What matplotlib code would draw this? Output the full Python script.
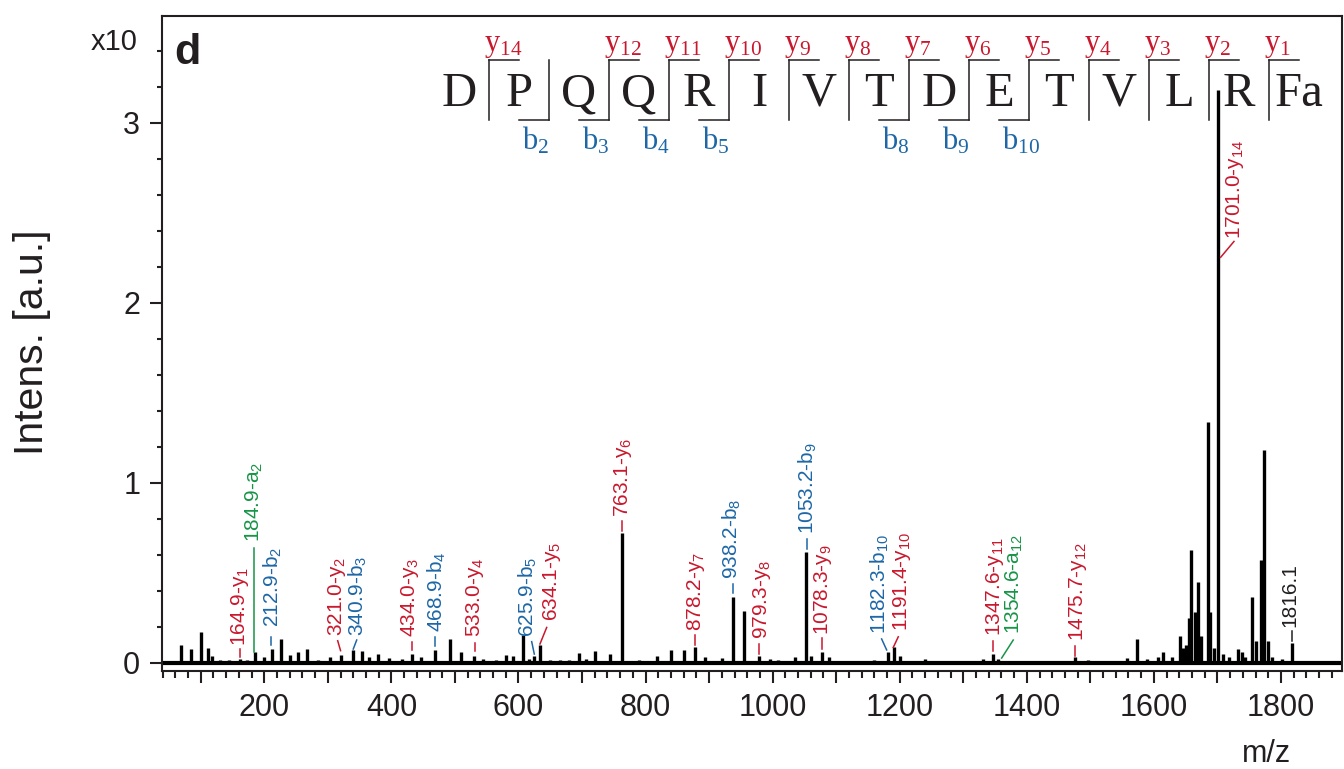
import matplotlib
matplotlib.use('Agg')
import matplotlib.pyplot as plt
from matplotlib.ticker import MultipleLocator, FuncFormatter
from matplotlib.lines import Line2D

plt.rcParams['font.family'] = ['Liberation Sans', 'DejaVu Sans']

# spectrum peaks: m/z and intensity (axis units, x10)
peak_mz = [69, 85, 100, 111, 118, 130, 145, 162, 172, 185, 200, 212, 226, 240, 253,
           267, 285, 303, 321, 340, 353, 365, 379, 396, 416, 432, 446, 469, 492, 509,
           530, 544, 565, 580, 591, 607, 616, 625, 634, 650, 665, 679, 695, 706, 720,
           744, 763, 790, 818, 840, 860, 878, 894, 920, 938, 955, 979, 996, 1009, 1035,
           1053, 1061, 1078, 1088, 1110, 1140, 1160, 1182, 1191, 1200, 1220, 1240, 1270,
           1300, 1331, 1347, 1355, 1380, 1420, 1450, 1476, 1496, 1520, 1540, 1557, 1573,
           1589, 1606, 1615, 1628, 1641, 1646, 1650, 1656, 1659, 1664, 1670, 1674, 1685,
           1689, 1694, 1701, 1708, 1718, 1733, 1738, 1744, 1755, 1760, 1769, 1774, 1780,
           1786, 1801, 1817]
peak_int = [0.10, 0.077, 0.17, 0.083, 0.04, 0.015, 0.015, 0.02, 0.015, 0.057, 0.03, 0.078,
            0.133, 0.045, 0.057, 0.078, 0.015, 0.03, 0.045, 0.072, 0.063, 0.03, 0.05, 0.027,
            0.02, 0.05, 0.03, 0.072, 0.133, 0.057, 0.04, 0.02, 0.015, 0.045, 0.035, 0.155,
            0.02, 0.04, 0.098, 0.015, 0.015, 0.017, 0.052, 0.02, 0.067, 0.048, 0.718, 0.015,
            0.035, 0.07, 0.068, 0.085, 0.03, 0.025, 0.367, 0.289, 0.04, 0.02, 0.015, 0.03,
            0.613, 0.035, 0.06, 0.03, 0.012, 0.012, 0.015, 0.06, 0.09, 0.035, 0.012, 0.02,
            0.012, 0.012, 0.02, 0.047, 0.02, 0.012, 0.012, 0.012, 0.03, 0.015, 0.012, 0.012,
            0.025, 0.13, 0.02, 0.03, 0.06, 0.03, 0.15, 0.08, 0.10, 0.25, 0.624, 0.28, 0.446,
            0.15, 1.335, 0.28, 0.08, 3.18, 0.05, 0.03, 0.077, 0.06, 0.03, 0.363, 0.12, 0.57,
            1.183, 0.118, 0.03, 0.02, 0.109]

# fragment labels
ann_text = ['164.9-y$\\mathregular{_1}$', '184.9-a$\\mathregular{_2}$', '212.9-b$\\mathregular{_2}$',
            '321.0-y$\\mathregular{_2}$', '340.9-b$\\mathregular{_3}$', '434.0-y$\\mathregular{_3}$',
            '468.9-b$\\mathregular{_4}$', '533.0-y$\\mathregular{_4}$', '625.9-b$\\mathregular{_5}$',
            '634.1-y$\\mathregular{_5}$', '763.1-y$\\mathregular{_6}$', '878.2-y$\\mathregular{_7}$',
            '938.2-b$\\mathregular{_8}$', '979.3-y$\\mathregular{_8}$', '1053.2-b$\\mathregular{_9}$',
            '1078.3-y$\\mathregular{_9}$', '1182.3-b$\\mathregular{_{10}}$', '1191.4-y$\\mathregular{_{10}}$',
            '1347.6-y$\\mathregular{_{11}}$', '1354.6-a$\\mathregular{_{12}}$', '1475.7-y$\\mathregular{_{12}}$',
            '1701.0-y$\\mathregular{_{14}}$', '1816.1']
ann_kind = ['y', 'a', 'b', 'y', 'b', 'y', 'b', 'y', 'b', 'y', 'y', 'y', 'b', 'y', 'b', 'y',
            'b', 'y', 'y', 'a', 'y', 'y', 'p']
# connector (x0, y0, x1, y1) and label anchor (tx, ty), data units
ann_pos = [(162, 0.033, 162, 0.078, 162, 0.094),
           (184, 0.057, 184, 0.639, 184, 0.668),
           (210, 0.10, 210, 0.141, 213, 0.196),
           (320, 0.067, 315.5, 0.122, 314, 0.15),
           (340, 0.076, 345.4, 0.126, 348, 0.15),
           (432, 0.072, 432, 0.117, 430, 0.141),
           (468.6, 0.094, 468.6, 0.141, 471, 0.168),
           (531.6, 0.063, 531.6, 0.111, 531.6, 0.141),
           (624.9, 0.048, 620.8, 0.117, 615.4, 0.141),
           (633.8, 0.104, 644.4, 0.196, 652, 0.233),
           (762.4, 0.733, 762.4, 0.789, 765, 0.807),
           (877.8, 0.10, 877.8, 0.154, 880, 0.178),
           (937.1, 0.385, 937.1, 0.437, 935.5, 0.465),
           (978.9, 0.048, 978.9, 0.104, 982.7, 0.132),
           (1053.5, 0.632, 1053.5, 0.687, 1056, 0.715),
           (1078, 0.076, 1078, 0.135, 1080, 0.155),
           (1179.4, 0.071, 1171.5, 0.132, 1169, 0.159),
           (1189.8, 0.085, 1197.7, 0.144, 1203, 0.178),
           (1347.2, 0.067, 1347.2, 0.122, 1350, 0.15),
           (1360.4, 0.026, 1378.6, 0.126, 1381, 0.159),
           (1475.7, 0.039, 1475.7, 0.094, 1481, 0.122),
           (1705, 2.252, 1726, 2.34, 1727.5, 2.354),
           (1816.7, 0.122, 1816.7, 0.178, 1814, 0.196)]

# peptide sequence with fragment cleavage sites (gap k = after residue k)
residues = ['D', 'P', 'Q', 'Q', 'R', 'I', 'V', 'T', 'D', 'E', 'T', 'V', 'L', 'R', 'Fa']
y_gaps = [1, 3, 4, 5, 6, 7, 8, 9, 10, 11, 12, 13, 14]
b_gaps = [2, 3, 4, 5, 8, 9, 10]

RED = '#c9182d'
BLUE = '#1d67a6'
GREEN = '#179447'
INK = '#231f20'
kind_color = {'y': RED, 'b': BLUE, 'a': GREEN, 'p': INK}

W, H = 1344, 769
fig = plt.figure(figsize=(W / 100, H / 100), dpi=100)
ax = fig.add_axes([162 / W, 1 - 671 / H, 1180 / W, (671 - 15.7) / H])

ax.axhline(0, color='black', lw=3.0, zorder=2)
ax.vlines(peak_mz, 0, peak_int, color='black', lw=2.4, zorder=2)

for txt, kind, (x0, y0, x1, y1, tx, ty) in zip(ann_text, ann_kind, ann_pos):
    c = kind_color[kind]
    ax.plot([x0, x1], [y0, y1], color=c, lw=1.1, zorder=3)
    ax.text(tx, ty, txt, rotation=90, ha='center', va='bottom', fontsize=15, color=c)

ax.set_xlim(39, 1896)
ax.set_ylim(-0.046, 3.594)
ax.xaxis.set_major_locator(MultipleLocator(100))
ax.xaxis.set_minor_locator(MultipleLocator(20))
ax.xaxis.set_major_formatter(FuncFormatter(lambda v, p: '%d' % v if round(v) % 200 == 0 else ''))
ax.yaxis.set_major_locator(MultipleLocator(1))
ax.yaxis.set_minor_locator(MultipleLocator(0.2))
ax.yaxis.set_major_formatter(FuncFormatter(lambda v, p: '%d' % round(v)))
ax.tick_params(which='both', direction='out', width=1.5, color=INK, labelcolor=INK,
               labelsize=22)
ax.tick_params(which='major', length=8.6, pad=7)
ax.tick_params(axis='x', which='minor', length=5)
ax.tick_params(axis='y', which='minor', length=3.6)
for s in ax.spines.values():
    s.set_linewidth(1.5)
    s.set_color(INK)

fig.text(32 / W, 1 - 342 / H, 'Intens. [a.u.]', rotation=90, ha='center', va='center',
         fontsize=29.5, color=INK)
fig.text(138 / W, 1 - 41.5 / H, 'x10', ha='right', va='center', fontsize=21, color=INK)
fig.text(174 / W, 1 - 33 / H, 'd', ha='left', va='top', fontsize=31, fontweight='bold', color=INK)
fig.text(1267 / W, 1 - 754 / H, 'm/z', ha='center', va='center', fontsize=22, color=INK)


def fline(xs, ys):
    fig.add_artist(Line2D([x / W for x in xs], [1 - y / H for y in ys],
                          transform=fig.transFigure, color=INK, lw=1.1))


serif = ['Liberation Serif', 'DejaVu Serif']
for i, r in enumerate(residues):
    fig.text((459 + 60 * i) / W, 1 - 106 / H, r, ha='center', va='baseline',
             fontsize=35, family=serif, color=INK)

for k in sorted(set(y_gaps) | set(b_gaps)):
    xg = 489 + 60 * (k - 1)
    fline([xg, xg], [60, 120])
for k in y_gaps:
    xg = 489 + 60 * (k - 1)
    fline([xg, xg + 30], [60, 60])
    fig.text((xg - 5) / W, 1 - 51 / H, 'y$\\mathregular{_{%d}}$' % (15 - k), ha='left',
             va='baseline', fontsize=22, family=serif, color=RED)
for k in b_gaps:
    xg = 489 + 60 * (k - 1)
    fline([xg - 30, xg], [120, 120])
    fig.text((xg - 27) / W, 1 - 150 / H, 'b$\\mathregular{_{%d}}$' % k, ha='left',
             va='baseline', fontsize=22, family=serif, color=BLUE)

fig.savefig('out.png', dpi=100)
